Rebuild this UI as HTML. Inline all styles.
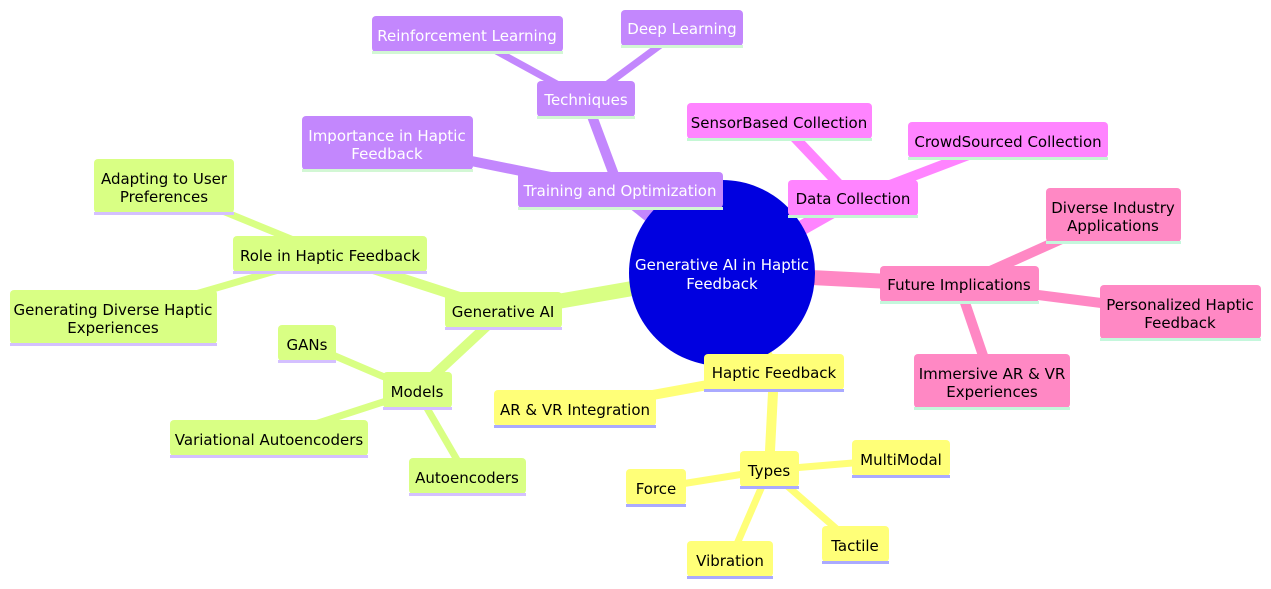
<!DOCTYPE html>
<html><head><meta charset="utf-8"><style>
html,body{margin:0;padding:0;background:#fff;width:1271px;height:589px;overflow:hidden}
svg text{font-family:"DejaVu Sans","Liberation Sans",sans-serif;font-size:15px;text-anchor:middle;dominant-baseline:central}
</style></head><body>
<svg width="1271" height="589" viewBox="0 0 1271 589" xmlns="http://www.w3.org/2000/svg">
<g stroke-linecap="butt" fill="none">
<!-- purple -->
<line x1="722" y1="273" x2="620" y2="191" stroke="#c387fd" stroke-width="15"/>
<line x1="620" y1="191" x2="586" y2="100" stroke="#c387fd" stroke-width="10"/>
<line x1="620" y1="191" x2="387" y2="144" stroke="#c387fd" stroke-width="10"/>
<line x1="586" y1="100" x2="467" y2="35" stroke="#c387fd" stroke-width="7"/>
<line x1="586" y1="100" x2="682" y2="29" stroke="#c387fd" stroke-width="7"/>
<!-- magenta -->
<line x1="722" y1="273" x2="853" y2="199" stroke="#ff84ff" stroke-width="15"/>
<line x1="853" y1="199" x2="779" y2="121" stroke="#ff84ff" stroke-width="10"/>
<line x1="853" y1="199" x2="1008" y2="140" stroke="#ff84ff" stroke-width="10"/>
<!-- pink -->
<line x1="722" y1="273" x2="959" y2="285" stroke="#ff88c4" stroke-width="15"/>
<line x1="959" y1="285" x2="1113" y2="216" stroke="#ff88c4" stroke-width="10"/>
<line x1="959" y1="285" x2="1180" y2="313" stroke="#ff88c4" stroke-width="10"/>
<line x1="959" y1="285" x2="992" y2="382" stroke="#ff88c4" stroke-width="10"/>
<!-- yellow -->
<line x1="722" y1="273" x2="774" y2="373" stroke="#ffff78" stroke-width="15"/>
<line x1="774" y1="373" x2="575" y2="409" stroke="#ffff78" stroke-width="10"/>
<line x1="774" y1="373" x2="769" y2="470" stroke="#ffff78" stroke-width="10"/>
<line x1="769" y1="470" x2="901" y2="459" stroke="#ffff78" stroke-width="7"/>
<line x1="769" y1="470" x2="656" y2="488" stroke="#ffff78" stroke-width="7"/>
<line x1="769" y1="470" x2="855" y2="545" stroke="#ffff78" stroke-width="7"/>
<line x1="769" y1="470" x2="730" y2="560" stroke="#ffff78" stroke-width="7"/>
<!-- green -->
<line x1="722" y1="273" x2="503" y2="311" stroke="#d9ff84" stroke-width="15"/>
<line x1="503" y1="311" x2="330" y2="255" stroke="#d9ff84" stroke-width="10"/>
<line x1="503" y1="311" x2="417" y2="391" stroke="#d9ff84" stroke-width="10"/>
<line x1="330" y1="255" x2="164" y2="187" stroke="#d9ff84" stroke-width="7"/>
<line x1="330" y1="255" x2="113" y2="318" stroke="#d9ff84" stroke-width="7"/>
<line x1="417" y1="391" x2="307" y2="344" stroke="#d9ff84" stroke-width="7"/>
<line x1="417" y1="391" x2="269" y2="439" stroke="#d9ff84" stroke-width="7"/>
<line x1="417" y1="391" x2="467" y2="477" stroke="#d9ff84" stroke-width="7"/>
</g>
<circle cx="722" cy="273" r="93" fill="#0000e0"/>
<text x="722" y="265" fill="#fff">Generative AI in Haptic</text>
<text x="722" y="284" fill="#fff">Feedback</text>

<!-- purple nodes -->
<g>
<rect x="518" y="172" width="205" height="36" rx="4" fill="#c387fd"/><rect x="518" y="207" width="205" height="3" fill="#d2f7d4"/>
<text x="620" y="191" fill="#fff">Training and Optimization</text>
<rect x="537" y="81" width="98" height="36" rx="4" fill="#c387fd"/><rect x="537" y="116" width="98" height="3" fill="#d2f7d4"/>
<text x="586" y="100" fill="#fff">Techniques</text>
<rect x="372" y="16" width="191" height="36" rx="4" fill="#c387fd"/><rect x="372" y="51" width="191" height="3" fill="#d2f7d4"/>
<text x="467" y="36" fill="#fff">Reinforcement Learning</text>
<rect x="621" y="10" width="122" height="36" rx="4" fill="#c387fd"/><rect x="621" y="45" width="122" height="3" fill="#d2f7d4"/>
<text x="682" y="29" fill="#fff">Deep Learning</text>
<rect x="302" y="116" width="171" height="54" rx="4" fill="#c387fd"/><rect x="302" y="169" width="171" height="3" fill="#d2f7d4"/>
<text x="387" y="136" fill="#fff">Importance in Haptic</text>
<text x="387" y="154" fill="#fff">Feedback</text>
</g>
<!-- magenta nodes -->
<g>
<rect x="788" y="180" width="130" height="36" rx="4" fill="#ff84ff"/><rect x="788" y="215" width="130" height="3" fill="#c4f7d4"/>
<text x="853" y="199">Data Collection</text>
<rect x="687" y="103" width="185" height="36" rx="4" fill="#ff84ff"/><rect x="687" y="138" width="185" height="3" fill="#c4f7d4"/>
<text x="779" y="123">SensorBased Collection</text>
<rect x="908" y="122" width="200" height="36" rx="4" fill="#ff84ff"/><rect x="908" y="157" width="200" height="3" fill="#c4f7d4"/>
<text x="1008" y="142">CrowdSourced Collection</text>
</g>
<!-- pink nodes -->
<g>
<rect x="880" y="266" width="159" height="36" rx="4" fill="#ff88c4"/><rect x="880" y="301" width="159" height="3" fill="#c4f7dc"/>
<text x="959" y="285">Future Implications</text>
<rect x="1046" y="188" width="135" height="54" rx="4" fill="#ff88c4"/><rect x="1046" y="241" width="135" height="3" fill="#c4f7dc"/>
<text x="1113" y="208">Diverse Industry</text>
<text x="1113" y="226">Applications</text>
<rect x="1100" y="285" width="161" height="54" rx="4" fill="#ff88c4"/><rect x="1100" y="338" width="161" height="3" fill="#c4f7dc"/>
<text x="1180" y="305">Personalized Haptic</text>
<text x="1180" y="323">Feedback</text>
<rect x="914" y="354" width="156" height="54" rx="4" fill="#ff88c4"/><rect x="914" y="407" width="156" height="3" fill="#c4f7dc"/>
<text x="992" y="374">Immersive AR &amp; VR</text>
<text x="992" y="392">Experiences</text>
</g>
<!-- yellow nodes -->
<g>
<rect x="704" y="354" width="140" height="36" rx="4" fill="#ffff78"/><rect x="704" y="389" width="140" height="3" fill="#aaaaff"/>
<text x="774" y="373">Haptic Feedback</text>
<rect x="494" y="390" width="162" height="36" rx="4" fill="#ffff78"/><rect x="494" y="425" width="162" height="3" fill="#aaaaff"/>
<text x="575" y="410">AR &amp; VR Integration</text>
<rect x="740" y="451" width="59" height="36" rx="4" fill="#ffff78"/><rect x="740" y="486" width="59" height="3" fill="#aaaaff"/>
<text x="769" y="471">Types</text>
<rect x="852" y="440" width="98" height="36" rx="4" fill="#ffff78"/><rect x="852" y="475" width="98" height="3" fill="#aaaaff"/>
<text x="901" y="460">MultiModal</text>
<rect x="626" y="469" width="60" height="36" rx="4" fill="#ffff78"/><rect x="626" y="504" width="60" height="3" fill="#aaaaff"/>
<text x="656" y="489">Force</text>
<rect x="822" y="526" width="67" height="36" rx="4" fill="#ffff78"/><rect x="822" y="561" width="67" height="3" fill="#aaaaff"/>
<text x="855" y="546">Tactile</text>
<rect x="687" y="541" width="86" height="36" rx="4" fill="#ffff78"/><rect x="687" y="576" width="86" height="3" fill="#aaaaff"/>
<text x="730" y="561">Vibration</text>
</g>
<!-- green nodes -->
<g>
<rect x="445" y="292" width="117" height="36" rx="4" fill="#d9ff84"/><rect x="445" y="327" width="117" height="3" fill="#d4c0ff"/>
<text x="503" y="312">Generative AI</text>
<rect x="233" y="236" width="194" height="36" rx="4" fill="#d9ff84"/><rect x="233" y="271" width="194" height="3" fill="#d4c0ff"/>
<text x="330" y="256">Role in Haptic Feedback</text>
<rect x="94" y="159" width="140" height="54" rx="4" fill="#d9ff84"/><rect x="94" y="212" width="140" height="3" fill="#d4c0ff"/>
<text x="164" y="179">Adapting to User</text>
<text x="164" y="197">Preferences</text>
<rect x="10" y="290" width="207" height="54" rx="4" fill="#d9ff84"/><rect x="10" y="343" width="207" height="3" fill="#d4c0ff"/>
<text x="113" y="310">Generating Diverse Haptic</text>
<text x="113" y="328">Experiences</text>
<rect x="383" y="372" width="69" height="36" rx="4" fill="#d9ff84"/><rect x="383" y="407" width="69" height="3" fill="#d4c0ff"/>
<text x="417" y="392">Models</text>
<rect x="278" y="325" width="58" height="36" rx="4" fill="#d9ff84"/><rect x="278" y="360" width="58" height="3" fill="#d4c0ff"/>
<text x="307" y="345">GANs</text>
<rect x="170" y="420" width="198" height="36" rx="4" fill="#d9ff84"/><rect x="170" y="455" width="198" height="3" fill="#d4c0ff"/>
<text x="269" y="440">Variational Autoencoders</text>
<rect x="409" y="458" width="117" height="36" rx="4" fill="#d9ff84"/><rect x="409" y="493" width="117" height="3" fill="#d4c0ff"/>
<text x="467" y="478">Autoencoders</text>
</g>
</svg>
</body></html>
